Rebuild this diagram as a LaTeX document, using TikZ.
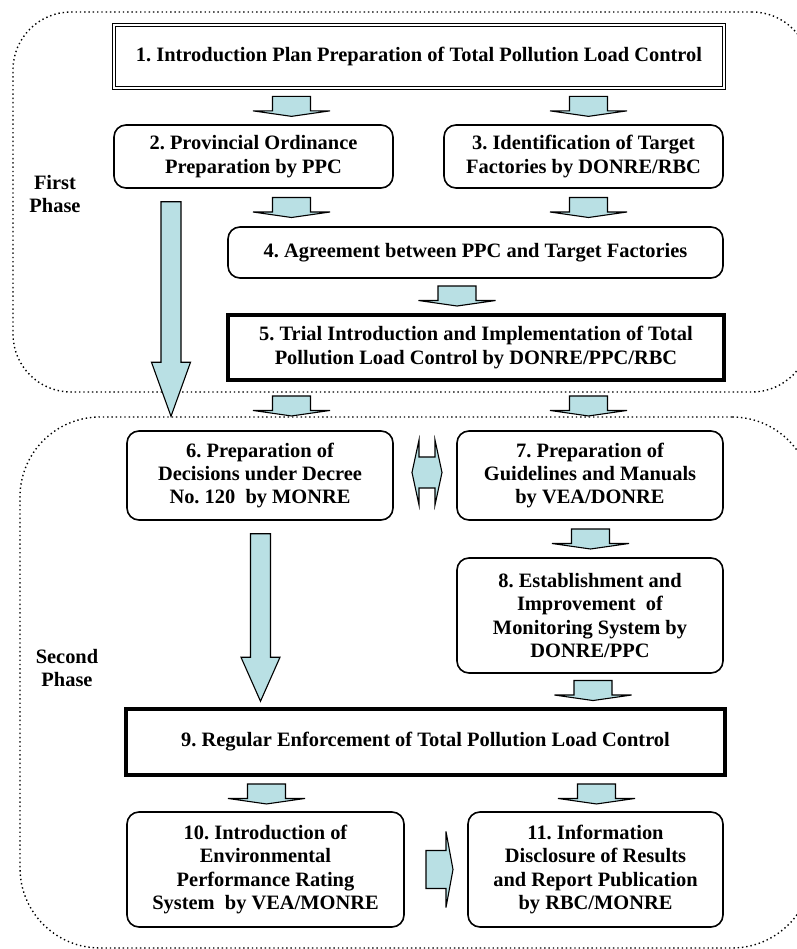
\documentclass[tikz,border=0pt]{standalone}
\usepackage{fontspec}
\setmainfont{Liberation Serif}
\usepackage{xcolor}
\usepackage{tikz}
\usetikzlibrary{calc, positioning}

\definecolor{arrowfill}{RGB}{185,224,228}

\tikzset{
    boxfont/.style={font=\bfseries\fontsize{20.5}{23.5}\selectfont\frenchspacing},
    box/.style={draw, align=center, inner sep=0pt, boxfont},
    dims/.style 2 args={minimum width=#1bp, minimum height=#2bp},
    roundbox/.style={box, rounded corners=12bp, line width=1.6bp},
    heavybox/.style={box, line width=3.5bp},
    planbox/.style={box, double, double distance=2.6bp, line width=1.1bp},
    phase/.style={draw, rounded corners=#1, line width=1.4bp,
        dash pattern=on 1.4bp off 2.9bp},
    blockarrow/.style={draw, fill=arrowfill, line width=1.1bp, line join=miter},
    % kleine Blockpfeile
    pics/flatdown/.style={code={
        \draw[blockarrow] (-19,10) -- (19,10) -- (19,-4.5) -- (38.5,-4.5)
            -- (0,-10) -- (-38.5,-4.5) -- (-19,-4.5) -- cycle;}},
    pics/flatright/.style={code={
        \draw[blockarrow] (-10,19) -- (10,19) -- (10,38) -- (17,0)
            -- (10,-38) -- (10,-19) -- (-10,-19) -- cycle;}},
    pics/swaparrow/.style={code={
        \draw[blockarrow] (-8,32.5) -- (-8,15.5) -- (8,15.5) -- (8,32.5)
            -- (15,0) -- (8,-32.5) -- (8,-15.5) -- (-8,-15.5)
            -- (-8,-32.5) -- (-15,0) -- cycle;}},
}

% Pfeil zwischen zwei Kaesten, x = Mitte des Pfeils
\newcommand{\flowdown}[3]{%
    \path let \p1=($(#2.south)!.5!(#3.north)$) in pic at (#1bp,\y1) {flatdown};}
% langer Pfeil: x, von, nach, Abstand der Spitze, Laenge der Spitze
\newcommand{\longdown}[5]{%
    \draw[blockarrow] let \p1=(#2.south), \p2=(#3.north) in
        ({#1bp-10bp},{\y1-13bp}) -- ({#1bp+10bp},{\y1-13bp})
        -- ({#1bp+10bp},{\y2+#4bp+#5bp}) -- ({#1bp+19.5bp},{\y2+#4bp+#5bp})
        -- (#1bp,{\y2+#4bp}) -- ({#1bp-19.5bp},{\y2+#4bp+#5bp})
        -- ({#1bp-10bp},{\y2+#4bp+#5bp}) -- cycle;}

\begin{document}
\begin{tikzpicture}[x=1bp, y=1bp]

    \useasboundingbox (0,0) rectangle (797,949);

    % =================================================================
    % 1. PHASE REGIONS
    % =================================================================
    \node[phase=58bp, dims={797}{380}] (phaseA) at (411.5,747) {};
    \node[phase=80bp, dims={792}{531}] (phaseB) at (416,266.5) {};

    \node[boxfont, align=center] (lblA) at (55,755) {First\\Phase};
    \node[boxfont, align=center] (lblB) at (67,281) {Second\\Phase};

    % =================================================================
    % 2. FIRST PHASE
    % =================================================================
    \node[planbox, dims={610}{63}] (b1) at (419,892.5)
        {1. Introduction Plan Preparation of Total Pollution Load Control};
    \node[roundbox, dims={279}{63}] (b2) at (253.5,792.5)
        {2. Provincial Ordinance\\Preparation by PPC};
    \node[roundbox, dims={279}{63}] (b3) at (583.5,792.5)
        {3. Identification of Target\\Factories by DONRE/RBC};
    \node[roundbox, dims={495}{51}] (b4) at (475.5,696.5)
        {4. Agreement between PPC and Target Factories};
    \node[heavybox, dims={496}{65}] (b5) at (476,601.5)
        {5. Trial Introduction and Implementation of Total\\Pollution Load Control by DONRE/PPC/RBC};

    % =================================================================
    % 3. SECOND PHASE
    % =================================================================
    \node[roundbox, dims={266}{89}] (b6) at (260,473.5)
        {6. Preparation of\\Decisions under Decree\\No. 120~ by MONRE};
    \node[roundbox, dims={266}{89}] (b7) at (590,473.5)
        {7. Preparation of\\Guidelines and Manuals\\by VEA/DONRE};
    \node[roundbox, dims={266}{115}] (b8) at (590,333.5)
        {8. Establishment and\\Improvement~ of\\Monitoring System by\\DONRE/PPC};
    \node[heavybox, dims={599}{66}] (b9) at (425.5,207)
        {9. Regular Enforcement of Total Pollution Load Control};
    \node[roundbox, dims={277}{115}] (b10) at (265.5,79.5)
        {10. Introduction of\\Environmental\\Performance Rating\\System~ by VEA/MONRE};
    \node[roundbox, dims={255}{115}] (b11) at (595.5,79.5)
        {11. Information\\Disclosure of Results\\and Report Publication\\by RBC/MONRE};

    % =================================================================
    % 4. BLOCK ARROWS
    % =================================================================
    \flowdown{291.5}{b1}{b2}
    \flowdown{588.5}{b1}{b3}
    \flowdown{291.5}{b2}{b4}
    \flowdown{588.5}{b3}{b4}
    \flowdown{457}{b4}{b5}
    \flowdown{291.5}{b5}{b6}
    \flowdown{588.5}{b5}{b7}
    \flowdown{590.5}{b7}{b8}
    \flowdown{593}{b8}{b9}
    \flowdown{266.5}{b9}{b10}
    \flowdown{596.5}{b9}{b11}

    \longdown{171}{b2}{phaseB}{0}{54}
    \longdown{260.5}{b6}{b9}{6}{44}

    \pic at ($(b6.east)!.5!(b7.west)+(2,3)$) {swaparrow};
    \pic at ($(b10.east)!.5!(b11.west)$) {flatright};

\end{tikzpicture}
\end{document}
